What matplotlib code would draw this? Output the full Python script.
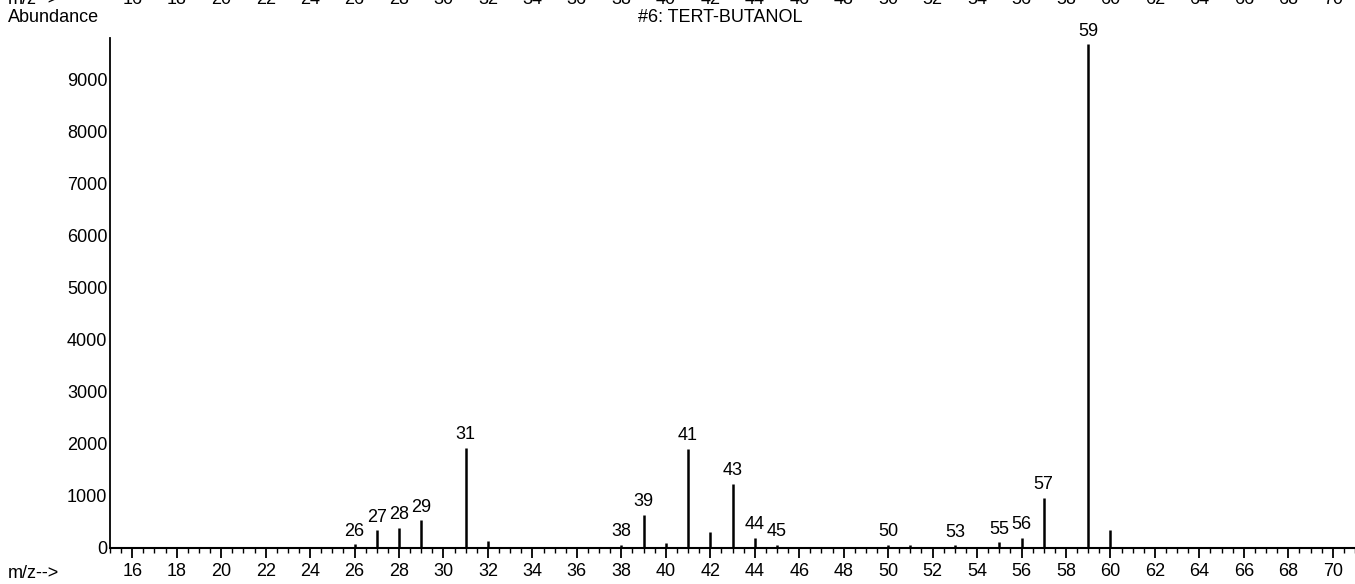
import numpy as np
import matplotlib.pyplot as plt
from matplotlib.ticker import MultipleLocator

plt.rcParams['font.family'] = ['Liberation Sans', 'DejaVu Sans']

# m/z values and abundances
mz = [26, 27, 28, 29, 31, 32, 38, 39, 40, 41, 42, 43, 44, 45, 50, 51, 53, 55, 56, 57, 59, 60]
abundance = [70, 340, 390, 530, 1920, 140, 60, 640, 100, 1910, 300, 1230, 200, 60, 60, 50, 50, 110, 200, 960, 9680, 350]
labelled = [26, 27, 28, 29, 31, 38, 39, 41, 43, 44, 45, 50, 53, 55, 56, 57, 59]

fig = plt.figure(figsize=(13.55, 5.84), dpi=100)
ax = fig.add_axes([110/1355, 1-548/584, 1245/1355, 510/584])

ax.vlines(mz, 0, abundance, color='black', linewidth=1.8)
for m, a in zip(mz, abundance):
    if m in labelled:
        ax.text(m, a + 90, str(m), ha='center', va='bottom', fontsize=13)

ax.set_xlim(15.0, 71.0)
ax.set_ylim(0, 9800)
ax.set_xticks(np.arange(16, 71, 2))
ax.xaxis.set_minor_locator(MultipleLocator(0.5))
ax.set_yticks(np.arange(0, 9001, 1000))
ax.tick_params(axis='x', which='major', length=7, width=1.3, labelsize=13)
ax.tick_params(axis='x', which='minor', length=3.5, width=1)
ax.tick_params(axis='y', length=0, labelsize=13, pad=2)
ax.spines['top'].set_visible(False)
ax.spines['right'].set_visible(False)
ax.spines['left'].set_linewidth(1.3)
ax.spines['bottom'].set_linewidth(1.5)

fig.text(8/1355, 1-573/584, 'm/z-->', fontsize=13, va='center')
fig.text(8/1355, 1-18/584, 'Abundance', fontsize=13, va='center')
fig.text(720/1355, 1-18/584, '#6: TERT-BUTANOL', fontsize=13, va='center', ha='center')

# cut-off header row from the page above
fig.text(8/1355, 1.0, 'm/z-->', fontsize=13, va='center')
for t in np.arange(16, 71, 2):
    xf = ax.transData.transform((t, 0))[0] / fig.bbox.width
    fig.text(xf, 1.0, str(t), fontsize=13, va='center', ha='center')

fig.savefig('out.png', dpi=100)
